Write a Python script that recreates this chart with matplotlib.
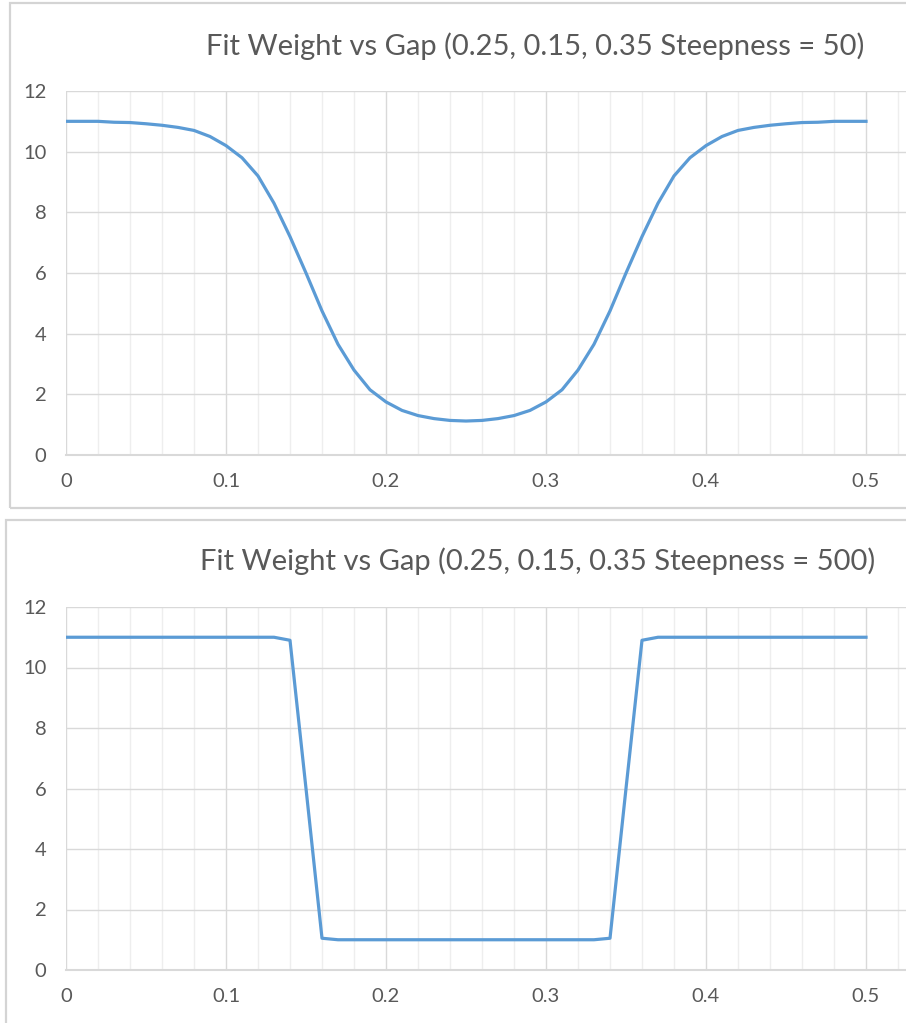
import matplotlib
matplotlib.use("Agg")
import matplotlib.pyplot as plt
from matplotlib.patches import Rectangle
from matplotlib.ticker import MultipleLocator

# Data (gap 0 .. 0.5, step 0.01)
gap = [0.00, 0.01, 0.02, 0.03, 0.04, 0.05, 0.06, 0.07, 0.08, 0.09,
       0.10, 0.11, 0.12, 0.13, 0.14, 0.15, 0.16, 0.17, 0.18, 0.19,
       0.20, 0.21, 0.22, 0.23, 0.24, 0.25, 0.26, 0.27, 0.28, 0.29,
       0.30, 0.31, 0.32, 0.33, 0.34, 0.35, 0.36, 0.37, 0.38, 0.39,
       0.40, 0.41, 0.42, 0.43, 0.44, 0.45, 0.46, 0.47, 0.48, 0.49, 0.50]

weight_50 = [11.0, 11.0, 11.0, 10.97, 10.96, 10.92, 10.87, 10.8, 10.7, 10.5,
             10.2, 9.8, 9.2, 8.3, 7.2, 6.0, 4.75, 3.65, 2.8, 2.15,
             1.75, 1.47, 1.3, 1.2, 1.14, 1.12, 1.14, 1.2, 1.3, 1.47,
             1.75, 2.15, 2.8, 3.65, 4.75, 6.0, 7.2, 8.3, 9.2, 9.8,
             10.2, 10.5, 10.7, 10.8, 10.87, 10.92, 10.96, 10.97, 11.0, 11.0, 11.0]

weight_500 = [11.0, 11.0, 11.0, 11.0, 11.0, 11.0, 11.0, 11.0, 11.0, 11.0,
              11.0, 11.0, 11.0, 11.0, 10.9, 6.0, 1.05, 1.0, 1.0, 1.0,
              1.0, 1.0, 1.0, 1.0, 1.0, 1.0, 1.0, 1.0, 1.0, 1.0,
              1.0, 1.0, 1.0, 1.0, 1.05, 6.0, 10.9, 11.0, 11.0, 11.0,
              11.0, 11.0, 11.0, 11.0, 11.0, 11.0, 11.0, 11.0, 11.0, 11.0, 11.0]

titles = ["Fit Weight vs Gap (0.25, 0.15, 0.35 Steepness = 50)",
          "Fit Weight vs Gap (0.25, 0.15, 0.35 Steepness = 500)"]

W, H = 906, 1023
TXT = "#595959"
GRID = "#d9d9d9"
MINOR = "#eeeeee"
BLUE = "#5b9bd5"

plt.rcParams['font.family'] = ['Lato', 'DejaVu Sans']

fig = plt.figure(figsize=(W / 100, H / 100), dpi=100)


def px(x0, y_top, w, h):
    # pixel box (from top-left) -> figure fraction rect
    return [x0 / W, 1 - (y_top + h) / H, w / W, h / H]


def chart(box, ax_rect, title_x, title_y, title, values):
    fig.patches.append(Rectangle((box[0], box[1]), box[2], box[3], transform=fig.transFigure,
                                 fill=False, edgecolor="#d4d4d4", linewidth=1.6))
    ax = fig.add_axes(ax_rect)
    ax.plot(gap, values, color=BLUE, linewidth=2.3, solid_joinstyle='round', zorder=3)
    ax.set_xlim(0, (W - 66) / 1600)
    ax.set_ylim(0, 12)
    ax.xaxis.set_major_locator(MultipleLocator(0.1))
    ax.xaxis.set_minor_locator(MultipleLocator(0.02))
    ax.yaxis.set_major_locator(MultipleLocator(2))
    ax.set_xticks([0, 0.1, 0.2, 0.3, 0.4, 0.5])
    ax.set_xticklabels(["0", "0.1", "0.2", "0.3", "0.4", "0.5"])
    ax.grid(which='major', color=GRID, linewidth=1.0)
    ax.grid(which='minor', axis='x', color=MINOR, linewidth=1.0)
    ax.set_axisbelow(True)
    for s in ['top', 'right', 'left']:
        ax.spines[s].set_visible(False)
    ax.spines['bottom'].set_color(GRID)
    ax.spines['bottom'].set_linewidth(1.5)
    ax.tick_params(which='both', length=0, colors=TXT, labelsize=14.5)
    ax.tick_params(axis='y', pad=14)
    ax.tick_params(axis='x', pad=13)
    fig.text(title_x / W, 1 - title_y / H, title, ha='center', va='center',
             fontsize=21, color=TXT)
    return ax


chart((10 / W, 1 - 508 / H, 1.0, 505 / H), px(66, 91, W - 66, 364), 535, 46, titles[0], weight_50)
chart((6 / W, -0.05, 1.0, 1 - 520 / H + 0.05), px(66, 607, W - 66, 363), 538, 561, titles[1], weight_500)

fig.savefig("out.png", dpi=100, facecolor="white")
